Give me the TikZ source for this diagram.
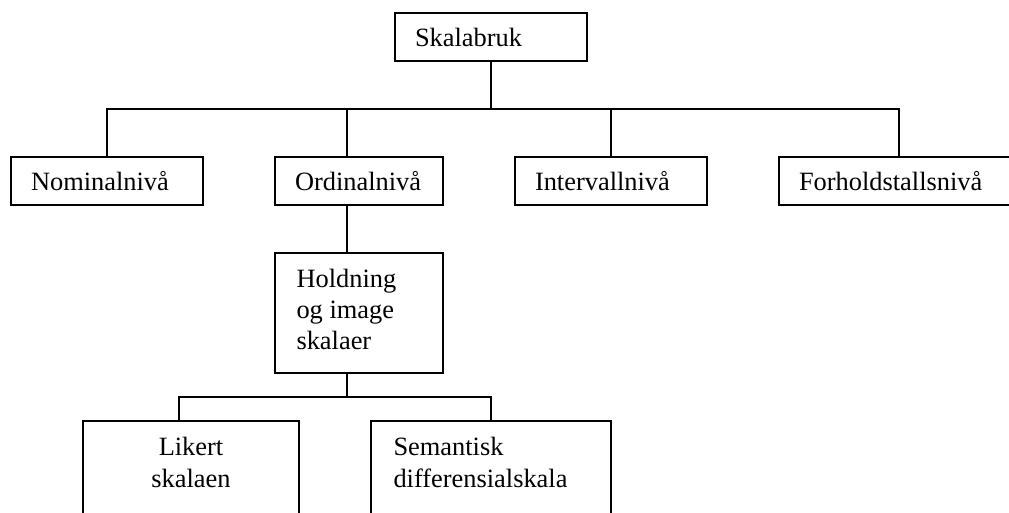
\documentclass[tikz,border=0pt]{standalone}
\usepackage{fontspec}
\setmainfont{Liberation Serif}
\newcommand\diagfont{\fontsize{26.4pt}{31.4pt}\selectfont}
\begin{document}
\begin{tikzpicture}[x=1pt, y=-1pt, line width=2pt,
  box/.style={draw, rectangle, inner xsep=20pt, inner ysep=0pt,
              font=\diagfont, align=left},
  frame/.style={draw, rectangle, inner sep=0pt},
  txt/.style={inner sep=0pt, font=\diagfont}]
  \useasboundingbox (0,0) rectangle (1009,513);
  \clip (0,0) rectangle (1009,513);

  % top level
  \node[box, minimum width=192pt, text width=152pt, minimum height=47.5pt]
    (sk) at (491,37.25) {Skalabruk};

  % measurement levels
  \node[box, minimum width=192pt, text width=152pt, minimum height=48pt]
    (nom) at (107,181) {Nominalnivå};
  \node[box, minimum width=168pt, text width=128pt, minimum height=48pt]
    (ord) at (359,181) {Ordinalnivå};
  \node[box, minimum width=192pt, text width=152pt, minimum height=48pt]
    (int) at (611,181) {Intervallnivå};
  \node[box, minimum width=240pt, text width=200pt, minimum height=48pt]
    (forh) at (899,181) {Forholdstallsnivå};

  % attitude scales (text anchored on its last baseline)
  \node[frame, minimum width=168pt, minimum height=120pt] (hold) at (359,313) {};
  \node[txt, anchor=base west, align=left] (holdtxt) at (295.5,349.8)
    {Holdning\\og image\\skalaer};

  % scale types
  \node[frame, minimum width=216pt, minimum height=120pt] (lik) at (191,481) {};
  \node[txt, anchor=base, align=center] (liktxt) at (191,487)
    {Likert\\skalaen};
  \node[frame, minimum width=240pt, minimum height=120pt] (sem) at (491,481) {};
  \node[txt, anchor=base west, align=left] (semtxt) at (392.5,487)
    {Semantisk\\differensialskala};

  % junction points
  \coordinate (bar) at (491,109);
  \coordinate (ordtap) at (347,109);
  \coordinate (bar2) at (347,397);
  \coordinate (liktap) at (179,397);

  % connectors
  \draw (sk.south) -- (bar);
  \draw (nom.north) |- (bar) -| (forh.north);
  \draw (ordtap) -- (ordtap |- ord.north);
  \draw (int.north) -- (int.north |- bar);
  \draw (ordtap |- ord.south) -- (ordtap |- hold.north);
  \draw (ordtap |- hold.south) -- (bar2);
  \draw (liktap |- lik.north) -- (liktap) -- (bar2) -| (sem.north);
\end{tikzpicture}
\end{document}
